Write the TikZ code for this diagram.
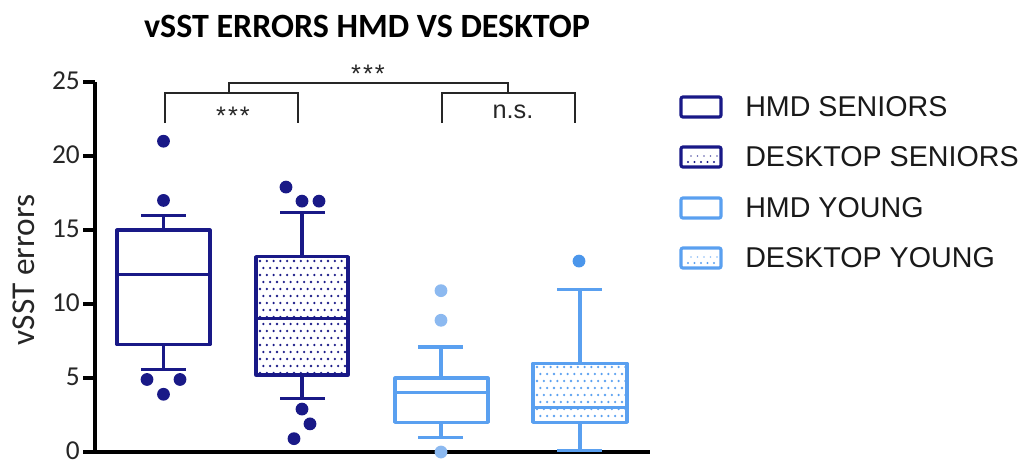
\documentclass[tikz,border=0pt]{standalone}
\usepackage{fontspec}
\setmainfont{Carlito}
\newfontfamily\arialf{Liberation Sans}
\definecolor{navyb}{RGB}{25,25,135}
\definecolor{skyb}{RGB}{90,160,240}
\definecolor{skyout}{RGB}{140,185,240}
\definecolor{skydark}{RGB}{75,150,235}
\newcommand\dotgrid[5]{%
  \begin{scope}
    \clip (#1,#2) rectangle (#3,#4);
    \foreach \j in {0,...,17}{\foreach \i in {0,...,14}{%
      \fill[#5] ({#1+4+6.8*\i+3.4*mod(\j,2)},{#2+4+7*\j}) circle (0.95pt);}}
  \end{scope}}
\begin{document}
\begin{tikzpicture}[x=0.75pt,y=-0.75pt,
  boxline/.style={line width=2.4pt, line join=round},
  bracket/.style={line width=1.1pt, black!85},
  axisline/.style={line width=2.8pt, black},
  outl/.style={circle, inner sep=0pt, minimum size=9.6pt},
  ticklab/.style={anchor=east, inner sep=0pt, font=\fontsize{20.5}{25}\selectfont, text=black!85},
  legtext/.style={anchor=west, inner sep=0pt, font=\arialf\fontsize{21.5}{26}\selectfont, text=black!90},
  sigtext/.style={anchor=base, font=\arialf\fontsize{19}{23}\selectfont, text=black!85}]
\useasboundingbox (0,0) rectangle (1029,465);

% title
\node[font={\fontsize{25.5}{30}\selectfont\bfseries}] (title) at (367,26) {vSST ERRORS HMD VS DESKTOP};

% y label
\node[rotate=90, font=\fontsize{25}{30}\selectfont, text=black!85] (ylab) at (24,270) {vSST errors};

% dot fills
\dotgrid{256}{257}{348}{375}{navyb}
\dotgrid{533}{363}{627}{422}{skyb}

% axes
\draw[axisline] (95,82) -- (95,452) -- (650,452);
\foreach \v in {0,5,...,25}{
  \draw[axisline] (83,{452-14.8*\v}) -- (95,{452-14.8*\v});
  \node[ticklab] (t\v) at (80,{451-14.8*\v}) {\v};
}

\begin{scope}[shift={(0,452)}, y=11.1pt]
  % HMD seniors
  \draw[boxline, navyb] (117,7.25) rectangle (210,15);
  \draw[boxline, navyb] (117,12) -- (210,12);
  \draw[boxline, navyb] (163.5,15) -- (163.5,16) (141,16) -- (186,16);
  \draw[boxline, navyb] (163.5,7.25) -- (163.5,5.6) (141,5.6) -- (186,5.6);
  \foreach \px/\py [count=\k] in {163.5/21, 163.5/17, 147/4.9, 180/4.9, 163.5/3.9}
    \node[outl, fill=navyb] (a\k) at (\px,\py) {};
  % Desktop seniors
  \draw[boxline, navyb] (256,5.2) rectangle (348,13.2);
  \draw[boxline, navyb] (256,9) -- (348,9);
  \draw[boxline, navyb] (302,13.2) -- (302,16.2) (280,16.2) -- (325,16.2);
  \draw[boxline, navyb] (302,5.2) -- (302,3.6) (280,3.6) -- (325,3.6);
  \foreach \px/\py [count=\k] in {286/17.9, 302/16.95, 319/16.95, 302/2.9, 310/1.9, 294/0.9}
    \node[outl, fill=navyb] (b\k) at (\px,\py) {};
  % HMD young
  \draw[boxline, skyb] (395,2) rectangle (488,5);
  \draw[boxline, skyb] (395,4) -- (488,4);
  \draw[boxline, skyb] (441,5) -- (441,7.1) (418,7.1) -- (463,7.1);
  \draw[boxline, skyb] (441,2) -- (441,1) (418,1) -- (463,1);
  \foreach \px/\py [count=\k] in {441/10.9, 441/8.9, 441/0}
    \node[outl, fill=skyout] (c\k) at (\px,\py) {};
  % Desktop young
  \draw[boxline, skyb] (533,2) rectangle (627,6);
  \draw[boxline, skyb] (533,3) -- (627,3);
  \draw[boxline, skyb] (580,6) -- (580,11) (557,11) -- (602,11);
  \draw[boxline, skyb] (580,2) -- (580,0.1) (557,0.1) -- (602,0.1);
  \node[outl, fill=skydark] (d1) at (579,12.9) {};
\end{scope}

% significance brackets
\draw[bracket] (165,123) -- (165,93) -- (298,93) -- (298,123);
\draw[bracket] (442,123) -- (442,93) -- (575,93) -- (575,123);
\draw[bracket] (229,93) -- (229,83) -- (508,83) -- (508,93);
\node[sigtext] (s1) at (233,124) {*\kern1.5pt*\kern1.5pt*};
\node[sigtext] (s2) at (368,82) {*\kern1.5pt*\kern1.5pt*};
\node[sigtext] (s3) at (513,118) {n.s.};

% legend
\foreach \c/\col/\dt/\txt [count=\k] in {107/navyb/0/HMD SENIORS, 157/navyb/1/DESKTOP SENIORS, 208/skyb/0/HMD YOUNG, 258/skyb/1/DESKTOP YOUNG}{
  \ifnum\dt=1
    \foreach \i in {0,...,4} \fill[\col] ({688+6.5*\i},{\c+5}) circle (0.9pt);
    \foreach \i in {0,...,4} \fill[\col!70] ({691+6.5*\i},{\c-1}) circle (0.7pt);
  \fi
  \draw[\col, line width=2.4pt, rounded corners=1.5pt] (681,{\c-10}) rectangle (721,{\c+10});
  \node[legtext] (l\k) at (745,\c) {\txt};
}
\end{tikzpicture}
\end{document}
